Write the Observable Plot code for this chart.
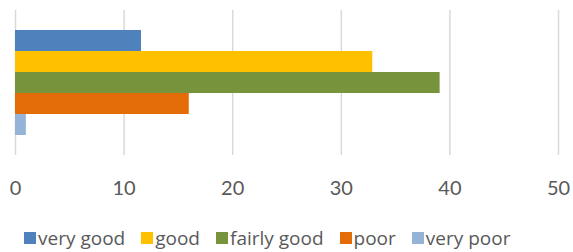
<!DOCTYPE html>
<html>
<head>
<meta charset="utf-8">
<script src="https://cdn.jsdelivr.net/npm/d3@7"></script>
<script src="https://cdn.jsdelivr.net/npm/@observablehq/plot@0.6"></script>
<style>
  body { margin: 0; background: #fff; font-family: Lato, "Open Sans", sans-serif; }
  #chart { width: 573px; }
  #legend { display: flex; justify-content: flex-start; align-items: center; width: 573px; height: 47px; padding-top: 18px; padding-left: 24px; box-sizing: border-box; font-family: "Open Sans", sans-serif; font-size: 19px; color: #595959; }
  .item { display: flex; align-items: center; margin-right: 16px; }
  .sw { width: 12px; height: 12px; margin-right: 2px; }
</style>
</head>
<body>
<div id="chart"></div>
<script>
const categories = ["very good", "good", "fairly good", "poor", "very poor"];
const values = [11.6, 32.9, 39.1, 16.0, 1.0];
const colors = ["#4F81BD", "#FFC000", "#77933C", "#E36C09", "#95B3D7"];
const xTicks = [0, 10, 20, 30, 40, 50];

const data = categories.map((c, i) => ({category: c, value: values[i]}));

const plot = Plot.plot({
  width: 573,
  height: 205,
  marginLeft: 15,
  marginRight: 15,
  marginTop: 10,
  marginBottom: 50,
  style: {fontFamily: "Lato, 'Open Sans', sans-serif", fontSize: "20px", color: "#595959", background: "#fff"},
  x: {domain: [0, 50], ticks: xTicks, tickSize: 0, tickPadding: 25, label: null},
  y: {domain: categories, paddingInner: 0, paddingOuter: 0.86, axis: null},
  color: {domain: categories, range: colors},
  marks: [
    Plot.ruleX(xTicks, {stroke: "#d9d9d9", strokeWidth: 1.5}),
    Plot.barX(data, {x: "value", y: "category", fill: "category"})
  ]
});
document.getElementById("chart").appendChild(plot);

const legend = document.createElement("div");
legend.id = "legend";
categories.forEach((c, i) => {
  const it = document.createElement("div");
  it.className = "item";
  const sw = document.createElement("div");
  sw.className = "sw";
  sw.style.background = colors[i];
  const t = document.createElement("span");
  t.textContent = c;
  it.appendChild(sw); it.appendChild(t);
  legend.appendChild(it);
});
document.body.appendChild(legend);
</script>
</body>
</html>
